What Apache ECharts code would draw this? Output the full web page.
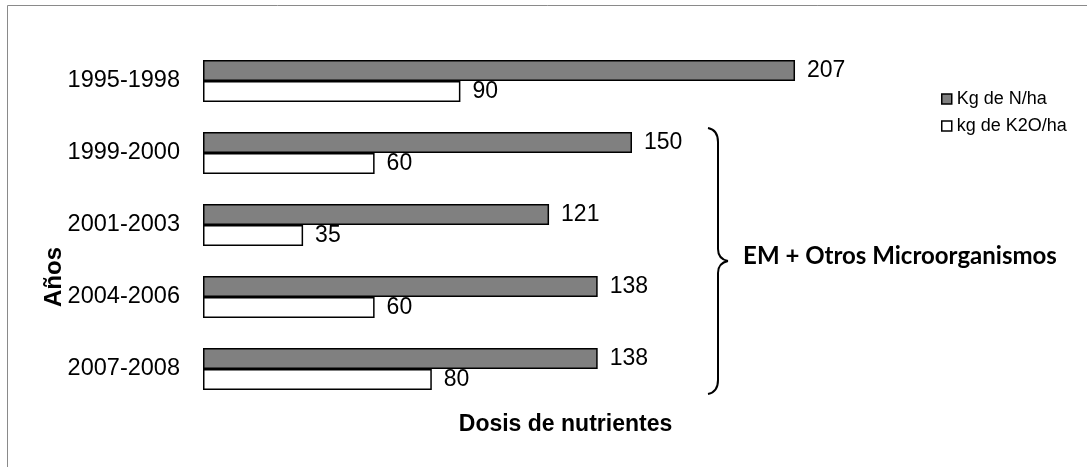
<!DOCTYPE html>
<html>
<head>
<meta charset="utf-8">
<script src="https://cdn.jsdelivr.net/npm/echarts@6/dist/echarts.min.js"></script>
<style>
html,body{margin:0;padding:0;background:#fff;}
#chart{width:1087px;height:467px;}
</style>
</head>
<body>
<div id="chart"></div>
<script>
const categories = ['1995-1998', '1999-2000', '2001-2003', '2004-2006', '2007-2008'];
const nValues = [207, 150, 121, 138, 138];
const kValues = [90, 60, 35, 60, 80];
const seriesNames = ['Kg de N/ha', 'kg de K2O/ha'];
const axisNameY = 'Años';
const axisNameX = 'Dosis de nutrientes';
const groupNote = 'EM + Otros Microorganismos';

const chart = echarts.init(document.getElementById('chart'), null, {renderer: 'canvas'});

const labelStyle = {
  show: true,
  position: 'right',
  distance: 12,
  color: '#000',
  fontFamily: 'Liberation Sans, Arial, sans-serif',
  fontSize: 23
};

const bracketStyle = {fill: 'none', stroke: '#000', lineWidth: 2};

chart.setOption({
  animation: false,
  backgroundColor: '#fff',
  grid: {left: 203, top: 45, height: 360, width: 715},
  legend: {
    orient: 'vertical',
    left: 936,
    top: 85,
    itemWidth: 10,
    itemHeight: 10,
    itemGap: 9,
    icon: 'rect',
    textStyle: {fontFamily: 'Liberation Sans, Arial, sans-serif', fontSize: 18, color: '#000'},
    data: [
      {name: seriesNames[0], itemStyle: {color: '#808080', borderColor: '#000', borderWidth: 1.5}},
      {name: seriesNames[1], itemStyle: {color: '#fff', borderColor: '#000', borderWidth: 1.5}}
    ]
  },
  xAxis: {
    type: 'value',
    min: 0,
    max: 250,
    name: axisNameX,
    nameLocation: 'middle',
    nameGap: 8,
    nameTextStyle: {fontFamily: 'Liberation Sans, Arial, sans-serif', fontSize: 23, fontWeight: 'bold', color: '#000', verticalAlign: 'top', padding: [0, 0, 0, 10]},
    axisLine: {show: false},
    axisTick: {show: false},
    axisLabel: {show: false},
    splitLine: {show: false}
  },
  yAxis: {
    type: 'category',
    inverse: true,
    data: categories,
    name: axisNameY,
    nameLocation: 'middle',
    nameGap: 137,
    nameRotate: 90,
    nameMoveOverlap: false,
    nameTextStyle: {fontFamily: 'Liberation Sans, Arial, sans-serif', fontSize: 24, fontWeight: 'bold', color: '#000', padding: [0, 104, 0, 0]},
    axisLine: {show: false},
    axisTick: {show: false},
    axisLabel: {margin: 23, color: '#000', fontFamily: 'Liberation Sans, Arial, sans-serif', fontSize: 23.5},
    splitLine: {show: false}
  },
  series: [
    {
      name: seriesNames[0],
      type: 'bar',
      data: nValues,
      barWidth: 21,
      barGap: '0%',
      itemStyle: {color: '#808080', borderColor: '#000', borderWidth: 1.5},
      label: labelStyle
    },
    {
      name: seriesNames[1],
      type: 'bar',
      data: kValues,
      barWidth: 21,
      barGap: '0%',
      itemStyle: {color: '#fff', borderColor: '#000', borderWidth: 1.5},
      label: labelStyle
    }
  ],
  graphic: [
    {
      type: 'rect',
      shape: {x: 7.5, y: 5.5, width: 1200, height: 600},
      style: {fill: 'none', stroke: '#8a8a8a', lineWidth: 1},
      silent: true
    },
    {
      type: 'group',
      silent: true,
      children: [
        {type: 'bezierCurve', shape: {x1: 708, y1: 128, x2: 718, y2: 142, cpx1: 718, cpy1: 130}, style: bracketStyle},
        {type: 'line', shape: {x1: 718, y1: 142, x2: 718, y2: 249}, style: bracketStyle},
        {type: 'bezierCurve', shape: {x1: 718, y1: 249, x2: 728, y2: 261, cpx1: 718, cpy1: 259}, style: bracketStyle},
        {type: 'bezierCurve', shape: {x1: 728, y1: 261, x2: 718, y2: 273, cpx1: 718, cpy1: 263}, style: bracketStyle},
        {type: 'line', shape: {x1: 718, y1: 273, x2: 718, y2: 380}, style: bracketStyle},
        {type: 'bezierCurve', shape: {x1: 718, y1: 380, x2: 708, y2: 394, cpx1: 718, cpy1: 392}, style: bracketStyle}
      ]
    },
    {
      type: 'text',
      x: 900,
      y: 256,
      style: {
        text: groupNote,
        font: 'bold 24px Lato, "Open Sans", sans-serif',
        fill: '#000',
        align: 'center',
        verticalAlign: 'middle'
      },
      silent: true
    }
  ]
});
</script>
</body>
</html>
